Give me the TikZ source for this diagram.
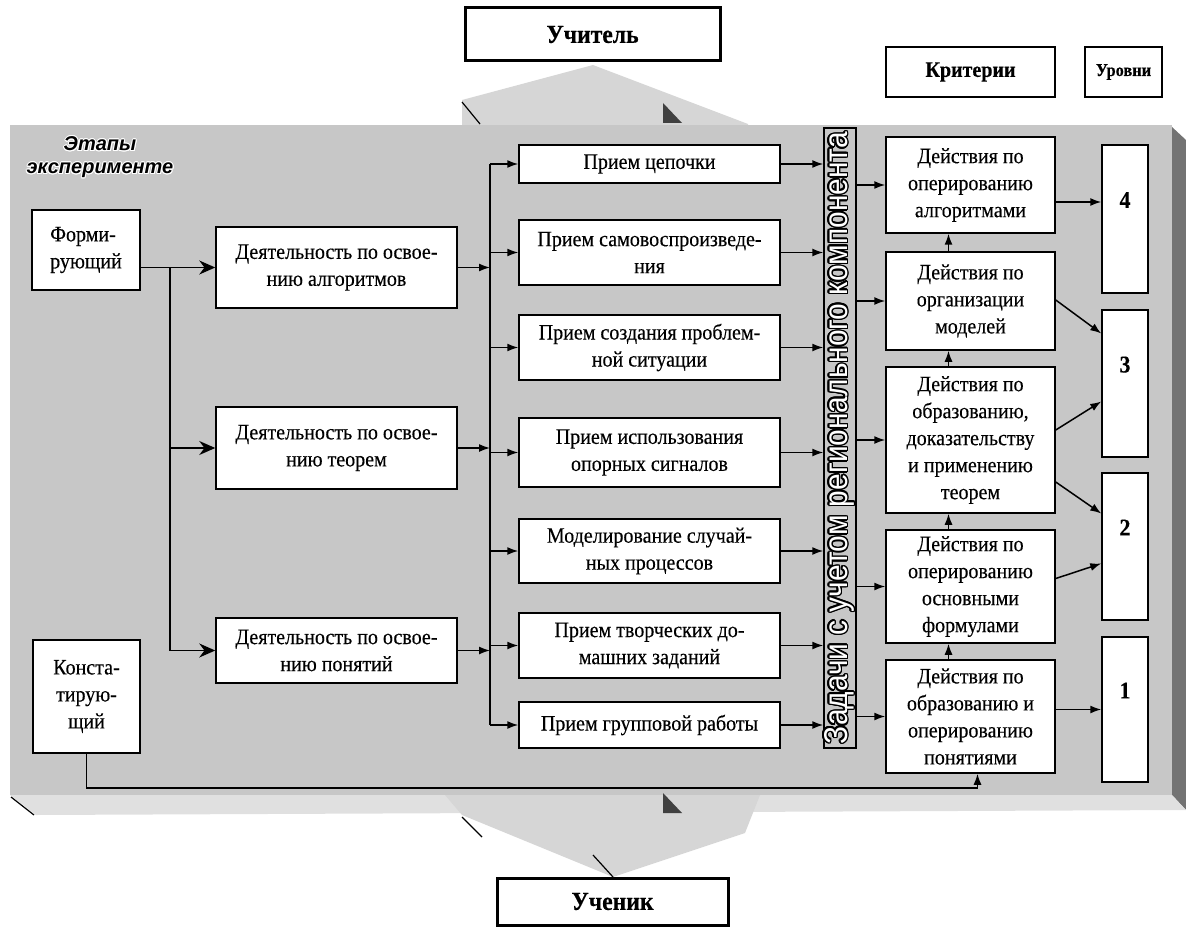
\documentclass[tikz,border=0pt]{standalone}
\usepackage{fontspec}
\setmainfont[FakeStretch=0.91, FakeBold=0.3]{Liberation Serif}
\newfontfamily\sansfont{Liberation Sans}
\usepackage{contour}
\contourlength{0.05em}
\usetikzlibrary{arrows.meta}
\definecolor{panel}{gray}{0.78}
\definecolor{floor}{gray}{0.88}
\definecolor{side}{gray}{0.45}
\definecolor{blockarrow}{gray}{0.84}
\newcommand{\boxfont}{\fontsize{22}{27}\selectfont}

\begin{document}
\begin{tikzpicture}[x=1pt, y=-1pt,
    box/.style={draw, line width=1.5pt, fill=white, align=center,
      inner sep=1pt, font=\boxfont},
    head/.style={draw, line width=3pt, fill=white,
      font=\fontsize{26}{30}\selectfont\bfseries},
    lvl/.style={draw, line width=1.5pt, fill=white, minimum width=46pt,
      minimum height=146pt, text depth=38pt,
      font=\fontsize{24}{28}\selectfont\bfseries},
    arr/.style={-{Latex[length=11pt, width=8pt]}, line width=1.5pt},
    bigarr/.style={-{Stealth[length=16pt, width=14pt]}, line width=1.5pt}]
  \useasboundingbox (0, 0) rectangle (1186, 928);

  % slab and block arrows
  \fill[blockarrow] (462, 100) -- (593, 65) -- (748, 124)
    -- (748, 126) -- (462, 126) -- cycle;
  \fill[panel] (10, 125) rectangle (1172, 795);
  \fill[side] (1172, 127) -- (1186, 140) -- (1186, 810) -- (1172, 795) -- cycle;
  \fill[floor] (10, 795) -- (1172, 795) -- (1186, 810) -- (36, 815) -- cycle;
  \fill[blockarrow] (445, 795) -- (462, 815) -- (613, 877)
    -- (745, 833) -- (760, 795) -- cycle;
  \draw[line width=1.2pt] (462, 102) -- (480, 124);
  \fill[black!75] (663, 103) -- (682, 123) -- (663, 123) -- cycle;
  \draw[line width=1.2pt] (11, 797) -- (34, 815);
  \draw[line width=1.2pt] (462, 817) -- (482, 837);
  \draw[line width=1.2pt] (593, 855) -- (613, 877);
  \fill[black!75] (663, 793) -- (682, 813) -- (663, 813) -- cycle;

  \node[head, minimum width=255pt, minimum height=53pt]
    (teacher) at (592.5, 34.5) {Учитель};

  \node[head, minimum width=231pt, minimum height=47pt]
    (pupil) at (612.5, 901.5) {Ученик};

  \node[box, minimum width=169pt, minimum height=50pt, font=\boxfont\bfseries]
    (crit) at (970.5, 72) {Критерии};

  \node[box, minimum width=77pt, minimum height=50pt,
    font=\fontsize{18}{20}\selectfont\bfseries]
    (levels) at (1123.5, 72) {Уровни};

  \node[align=center, font=\fontsize{20}{23}\sansfont\bfseries\itshape]
    (stage) at (100, 158) {\contour{white}{Этапы}\\\contour{white}{эксперименте}};

  \node[box, align=left, minimum width=108pt, minimum height=80pt]
    (form) at (86, 250) {Форми-\\рующий};

  \node[box, minimum width=107pt, minimum height=113pt]
    (konst) at (86.5, 696.5) {Конста-\\тирую-\\щий};

  \node[box, minimum width=241pt, minimum height=81pt]
    (d1) at (336.5, 267.5) {Деятельность по освое-\\нию алгоритмов};

  \node[box, minimum width=241pt, minimum height=82pt]
    (d2) at (336.5, 448) {Деятельность по освое-\\нию теорем};

  \node[box, minimum width=241pt, minimum height=65pt]
    (d3) at (336.5, 650.5) {Деятельность по освое-\\нию понятий};

  \node[box, minimum width=261pt, minimum height=38pt]
    (m1) at (649.5, 164) {Прием цепочки};
  \node[box, minimum width=261pt, minimum height=65pt]
    (m2) at (649.5, 252.5) {Прием самовоспроизведе-\\ния};
  \node[box, minimum width=261pt, minimum height=65pt]
    (m3) at (649.5, 347.5) {Прием создания проблем-\\ной ситуации};
  \node[box, minimum width=261pt, minimum height=69pt]
    (m4) at (649.5, 452.5) {Прием использования\\опорных сигналов};
  \node[box, minimum width=261pt, minimum height=64pt]
    (m5) at (649.5, 551) {Моделирование случай-\\ных процессов};
  \node[box, minimum width=261pt, minimum height=65pt]
    (m6) at (649.5, 645.5) {Прием творческих до-\\машних заданий};
  \node[box, minimum width=261pt, minimum height=46pt]
    (m7) at (649.5, 725) {Прием групповой работы};

  \node[draw, line width=1.5pt, fill=panel, rotate=90, inner sep=0pt,
    minimum width=620pt, minimum height=32pt]
    (band) at (840, 438) {\resizebox{612pt}{23pt}{\sansfont\color{white}%
      \contour{black}{Задачи с учетом регионального компонента}}};

  \node[box, minimum width=169pt, minimum height=96pt]
    (r1) at (970.5, 185) {Действия по\\оперированию\\алгоритмами};
  \node[box, minimum width=169pt, minimum height=98pt]
    (r2) at (970.5, 301) {Действия по\\организации\\моделей};
  \node[box, minimum width=169pt, minimum height=146pt]
    (r3) at (970.5, 440) {Действия по\\образованию,\\доказательству\\и применению\\теорем};
  \node[box, minimum width=169pt, minimum height=113pt]
    (r4) at (970.5, 586.5) {Действия по\\оперированию\\основными\\формулами};
  \node[box, minimum width=169pt, minimum height=113pt]
    (r5) at (970.5, 716.5) {Действия по\\образованию и\\оперированию\\понятиями};

  \node[lvl, minimum height=148pt] (l4) at (1125, 219) {4};
  \node[lvl, minimum height=147pt] (l3) at (1125, 383.5) {3};
  \node[lvl, minimum height=147pt] (l2) at (1125, 546.5) {2};
  \node[lvl, minimum height=145pt] (l1) at (1125, 709.5) {1};

  \coordinate (j1) at (170, 267.5);
  \coordinate (j2) at (490, 164);
  \coordinate (kb) at (0, 788);
  \coordinate (in4) at ([yshift=17pt]l4.west);

  \draw[line width=1.5pt]
    (form.east |- j1) -- (j1) -- (j1 |- d3.west);

  \path[bigarr]
    (j1) edge (d1.west)
    (j1 |- d2.west) edge (d2.west)
    (j1 |- d3.west) edge (d3.west);

  \draw[line width=1.5pt]
    (j2) -- (j2 |- m7.west);

  \path[arr]
    (d1.east) edge (d1.east -| j2)
    (d2.east) edge (d2.east -| j2)
    (d3.east) edge (d3.east -| j2)
    (j2 |- m1.west) edge (m1.west)
    (j2 |- m2.west) edge (m2.west)
    (j2 |- m3.west) edge (m3.west)
    (j2 |- m4.west) edge (m4.west)
    (j2 |- m5.west) edge (m5.west)
    (j2 |- m6.west) edge (m6.west)
    (j2 |- m7.west) edge (m7.west);

  \path[arr]
    (m1.east) edge (m1.east -| band.north)
    (m2.east) edge (m2.east -| band.north)
    (m3.east) edge (m3.east -| band.north)
    (m4.east) edge (m4.east -| band.north)
    (m5.east) edge (m5.east -| band.north)
    (m6.east) edge (m6.east -| band.north)
    (m7.east) edge (m7.east -| band.north);

  \path[arr]
    (band.south |- r1.west) edge (r1.west)
    (band.south |- r2.west) edge (r2.west)
    (band.south |- r3.west) edge (r3.west)
    (band.south |- r4.west) edge (r4.west)
    (band.south |- r5.west) edge (r5.west);

  \path[arr]
    ([xshift=-22pt]r2.north) edge ([xshift=-22pt]r1.south)
    ([xshift=-22pt]r3.north) edge ([xshift=-22pt]r2.south)
    ([xshift=-22pt]r4.north) edge ([xshift=-22pt]r3.south)
    ([xshift=-22pt]r5.north) edge ([xshift=-22pt]r4.south);

  \path[arr]
    (r1.east |- in4) edge (in4)
    ([yshift=1pt]r2.east) edge ([yshift=50pt]l3.west)
    ([yshift=10pt]r3.east) edge ([yshift=-18pt]l3.west)
    ([yshift=-42pt]r3.east) edge ([yshift=33pt]l2.west)
    ([yshift=8pt]r4.east) edge ([yshift=-17pt]l2.west)
    (r5.east |- l1.west) edge (l1.west);

  \draw[arr]
    (konst.south) -- (konst.south |- kb) -| ([xshift=7pt]r5.south);
\end{tikzpicture}
\end{document}
